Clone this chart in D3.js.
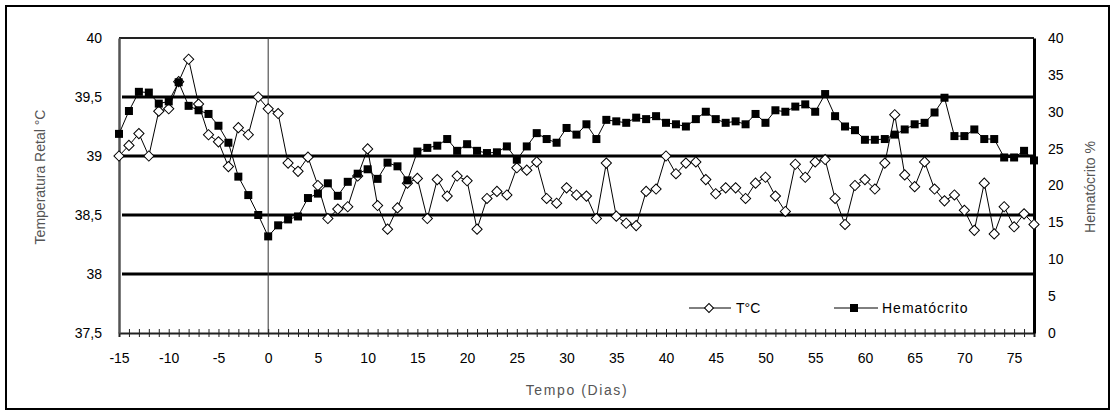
<!DOCTYPE html>
<html>
<head>
<meta charset="utf-8">
<script src="https://cdn.jsdelivr.net/npm/d3@7/dist/d3.min.js"></script>
<style>
  body { margin: 0; background: #fff; }
  svg text { font-family: "Liberation Sans", Arial, sans-serif; }
</style>
</head>
<body>
<div id="chart"></div>
<script>
// dias (eixo x)
const dias = [-15, -14, -13, -12, -11, -10, -9, -8, -7, -6, -5, -4, -3, -2, -1,
  0, 1, 2, 3, 4, 5, 6, 7, 8, 9, 10, 11, 12, 13, 14, 15, 16, 17, 18, 19, 20,
  21, 22, 23, 24, 25, 26, 27, 28, 29, 30, 31, 32, 33, 34, 35, 36, 37, 38, 39, 40,
  41, 42, 43, 44, 45, 46, 47, 48, 49, 50, 51, 52, 53, 54, 55, 56, 57, 58, 59, 60,
  61, 62, 63, 64, 65, 66, 67, 68, 69, 70, 71, 72, 73, 74, 75, 76, 77];

// temperatura retal (°C)
const temperatura = [39.00, 39.09, 39.19, 39.00, 39.38, 39.40, 39.63, 39.82, 39.44, 39.18,
  39.12, 38.91, 39.24, 39.18, 39.50, 39.40, 39.36, 38.94, 38.87, 38.99,
  38.75, 38.47, 38.55, 38.57, 38.83, 39.06, 38.58, 38.38, 38.56, 38.77,
  38.81, 38.47, 38.80, 38.66, 38.83, 38.79, 38.38, 38.64, 38.70, 38.67,
  38.90, 38.88, 38.95, 38.64, 38.60, 38.73, 38.67, 38.66, 38.47, 38.94,
  38.49, 38.43, 38.41, 38.70, 38.72, 39.00, 38.85, 38.94, 38.95, 38.80,
  38.68, 38.73, 38.73, 38.64, 38.77, 38.82, 38.66, 38.53, 38.93, 38.82,
  38.95, 38.97, 38.64, 38.42, 38.75, 38.80, 38.72, 38.94, 39.35, 38.84,
  38.74, 38.95, 38.72, 38.62, 38.67, 38.54, 38.37, 38.77, 38.34, 38.57,
  38.40, 38.51, 38.42];

// hematócrito (%)
const hematocrito = [27.0, 30.1, 32.7, 32.6, 31.1, 31.4, 34.0, 30.8, 30.2, 29.7,
  28.1, 25.8, 21.2, 18.7, 16.0, 13.1, 14.6, 15.4, 15.8, 18.3,
  18.9, 20.3, 18.6, 20.5, 21.6, 22.2, 20.9, 23.1, 22.6, 20.7,
  24.6, 25.1, 25.4, 26.3, 24.7, 25.6, 24.7, 24.4, 24.5, 25.3,
  23.5, 25.3, 27.1, 26.3, 25.8, 27.8, 26.9, 28.3, 26.3, 28.9,
  28.7, 28.5, 29.2, 29.0, 29.4, 28.5, 28.3, 28.0, 29.0, 30.0,
  29.0, 28.5, 28.7, 28.3, 29.7, 28.5, 30.2, 30.0, 30.7, 31.0,
  30.0, 32.4, 29.4, 28.0, 27.5, 26.2, 26.2, 26.3, 26.9, 27.6,
  28.3, 28.5, 29.9, 31.9, 26.7, 26.7, 27.6, 26.3, 26.3, 23.8,
  23.8, 24.7, 23.4];

const ticksTemp = [37.5, 38, 38.5, 39, 39.5, 40];
const ticksHct = [0, 5, 10, 15, 20, 25, 30, 35, 40];
const linhasGrade = [38, 38.5, 39, 39.5];

const width = 1118, height = 416;
const margin = { top: 38, right: 84, bottom: 83, left: 119 };
const innerW = width - margin.left - margin.right;
const innerH = height - margin.top - margin.bottom;

const svg = d3.select("#chart").append("svg")
  .attr("width", width).attr("height", height);

// moldura externa
svg.append("rect")
  .attr("x", 6).attr("y", 6)
  .attr("width", 1103).attr("height", 403)
  .attr("fill", "none").attr("stroke", "#000").attr("stroke-width", 2);

const g = svg.append("g").attr("transform", `translate(${margin.left},${margin.top})`);

const x = d3.scaleLinear().domain([-15, 77]).range([0, innerW]);
const yT = d3.scaleLinear().domain([37.5, 40]).range([innerH, 0]);
const yH = d3.scaleLinear().domain([0, 40]).range([innerH, 0]);

// linhas de grade
g.selectAll(".grade").data(linhasGrade).enter().append("line")
  .attr("x1", 3).attr("x2", innerW)
  .attr("y1", d => yT(d)).attr("y2", d => yT(d))
  .attr("stroke", "#000").attr("stroke-width", 3);

// topo
g.append("line").attr("x1", 0).attr("x2", innerW).attr("y1", 0).attr("y2", 0)
  .attr("stroke", "#222").attr("stroke-width", 2);

// linha vertical no dia 0
g.append("line").attr("x1", x(0)).attr("x2", x(0)).attr("y1", 0).attr("y2", innerH)
  .attr("stroke", "#333").attr("stroke-width", 1);

// eixo x
const eixoX = g.append("g").attr("transform", `translate(0,${innerH})`)
  .call(d3.axisBottom(x).tickValues(dias).tickSize(4).tickPadding(16)
    .tickFormat(d => d % 5 === 0 && d <= 75 ? d : ""));
eixoX.select(".domain").attr("stroke", "#222").attr("stroke-width", 2);
eixoX.selectAll(".tick line").attr("y1", -4).attr("y2", 4).attr("stroke", "#222");
eixoX.selectAll("text").attr("font-size", 14).attr("fill", "#000");

// eixo esquerdo
const eixoE = g.append("g")
  .call(d3.axisLeft(yT).tickValues(ticksTemp).tickSize(0).tickPadding(17)
    .tickFormat(d => String(d).replace(".", ",")));
eixoE.select(".domain").attr("stroke", "#555").attr("stroke-width", 2.5);
eixoE.selectAll("text").attr("font-size", 14).attr("fill", "#000");

// eixo direito
const eixoD = g.append("g").attr("transform", `translate(${innerW},0)`)
  .call(d3.axisRight(yH).tickValues(ticksHct).tickSize(0).tickPadding(14));
eixoD.select(".domain").attr("stroke", "#000").attr("stroke-width", 3);
eixoD.selectAll("text").attr("font-size", 14).attr("fill", "#000");

// títulos dos eixos
svg.append("text")
  .attr("transform", "translate(45,177) rotate(-90)")
  .attr("text-anchor", "middle").attr("font-size", 14).attr("fill", "#555")
  .text("Temperatura Retal °C");
svg.append("text")
  .attr("transform", "translate(1095,187) rotate(-90)")
  .attr("text-anchor", "middle").attr("font-size", 14).attr("fill", "#555")
  .text("Hematócrito %");
svg.append("text")
  .attr("x", 577).attr("y", 395)
  .attr("text-anchor", "middle").attr("font-size", 14).attr("fill", "#555")
  .attr("letter-spacing", 1.6)
  .text("Tempo (Dias)");

const pontosT = dias.map((d, i) => [d, temperatura[i]]);
const pontosH = dias.map((d, i) => [d, hematocrito[i]]);

// série temperatura
g.append("path").datum(pontosT)
  .attr("fill", "none").attr("stroke", "#000").attr("stroke-width", 1)
  .attr("d", d3.line().x(d => x(d[0])).y(d => yT(d[1])));

g.selectAll(".t").data(pontosT).enter().append("path")
  .attr("transform", d => `translate(${x(d[0])},${yT(d[1])}) rotate(45)`)
  .attr("d", d3.symbol().type(d3.symbolSquare).size(52))
  .attr("fill", "#fff").attr("stroke", "#000").attr("stroke-width", 1);

// série hematócrito
g.append("path").datum(pontosH)
  .attr("fill", "none").attr("stroke", "#000").attr("stroke-width", 1)
  .attr("d", d3.line().x(d => x(d[0])).y(d => yH(d[1])));

g.selectAll(".h").data(pontosH).enter().append("rect")
  .attr("x", d => x(d[0]) - 4).attr("y", d => yH(d[1]) - 4)
  .attr("width", 8).attr("height", 8)
  .attr("fill", "#000");

// legenda
const leg = svg.append("g");
leg.append("line").attr("x1", 689).attr("x2", 731).attr("y1", 308).attr("y2", 308)
  .attr("stroke", "#000");
leg.append("path").attr("transform", "translate(709,308) rotate(45)")
  .attr("d", d3.symbol().type(d3.symbolSquare).size(40))
  .attr("fill", "#fff").attr("stroke", "#000");
leg.append("text").attr("x", 736).attr("y", 313).attr("font-size", 14).text("T°C");
leg.append("line").attr("x1", 834).attr("x2", 878).attr("y1", 308).attr("y2", 308)
  .attr("stroke", "#000");
leg.append("rect").attr("x", 850).attr("y", 304).attr("width", 8).attr("height", 8)
  .attr("fill", "#000");
leg.append("text").attr("x", 882).attr("y", 313).attr("font-size", 14)
  .attr("letter-spacing", 1).text("Hematócrito");
</script>
</body>
</html>
